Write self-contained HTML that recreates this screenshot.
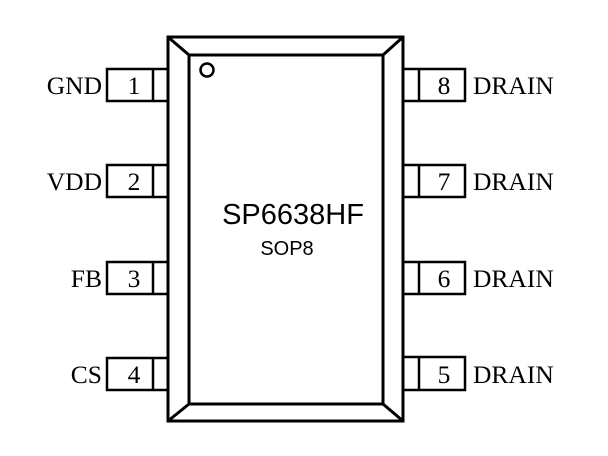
<!DOCTYPE html>
<html><head><style>
html,body{margin:0;padding:0;background:#fff;}
svg{display:block;}
</style></head><body>
<svg width="608" height="456" viewBox="0 0 608 456" xmlns="http://www.w3.org/2000/svg">
<rect width="608" height="456" fill="#fff"/>
<g fill="none" stroke="#000" stroke-width="3">
<rect x="168" y="37" width="235" height="384"/>
<rect x="189" y="55" width="194" height="349"/>
<line x1="168" y1="37" x2="189" y2="55"/>
<line x1="403" y1="37" x2="383" y2="55"/>
<line x1="168" y1="421" x2="189" y2="404"/>
<line x1="403" y1="421" x2="383" y2="404"/>
<circle cx="207" cy="70" r="6.5" stroke-width="2.5"/>
<g stroke-width="2.5">
<rect x="107" y="69" width="61" height="32"/><line x1="153" y1="69" x2="153" y2="101"/>
<rect x="107" y="165" width="61" height="32"/><line x1="153" y1="165" x2="153" y2="197"/>
<rect x="107" y="262" width="61" height="32"/><line x1="153" y1="262" x2="153" y2="294"/>
<rect x="107" y="358" width="61" height="32"/><line x1="153" y1="358" x2="153" y2="390"/>
<rect x="403" y="69" width="62" height="32"/><line x1="419" y1="69" x2="419" y2="101"/>
<rect x="403" y="165" width="62" height="32"/><line x1="419" y1="165" x2="419" y2="197"/>
<rect x="403" y="262" width="62" height="32"/><line x1="419" y1="262" x2="419" y2="294"/>
<rect x="403" y="357" width="62" height="33"/><line x1="419" y1="357" x2="419" y2="390"/>
</g>
</g>
<g font-family="Liberation Serif, serif" font-size="25.5" fill="#000">
<text x="102" y="94" text-anchor="end">GND</text>
<text x="102" y="190" text-anchor="end">VDD</text>
<text x="102" y="287" text-anchor="end">FB</text>
<text x="102" y="383" text-anchor="end">CS</text>
<text x="134" y="94" text-anchor="middle">1</text>
<text x="134" y="190" text-anchor="middle">2</text>
<text x="134" y="287" text-anchor="middle">3</text>
<text x="134" y="383" text-anchor="middle">4</text>
<text x="444" y="94" text-anchor="middle">8</text>
<text x="444" y="190" text-anchor="middle">7</text>
<text x="444" y="287" text-anchor="middle">6</text>
<text x="444" y="383" text-anchor="middle">5</text>
<text x="473" y="94">DRAIN</text>
<text x="473" y="190">DRAIN</text>
<text x="473" y="287">DRAIN</text>
<text x="473" y="383">DRAIN</text>
</g>
<g font-family="Liberation Sans, sans-serif" fill="#000" text-anchor="middle">
<text x="293" y="224" font-size="29">SP6638HF</text>
<text x="287" y="255" font-size="20">SOP8</text>
</g>
</svg>
</body></html>
